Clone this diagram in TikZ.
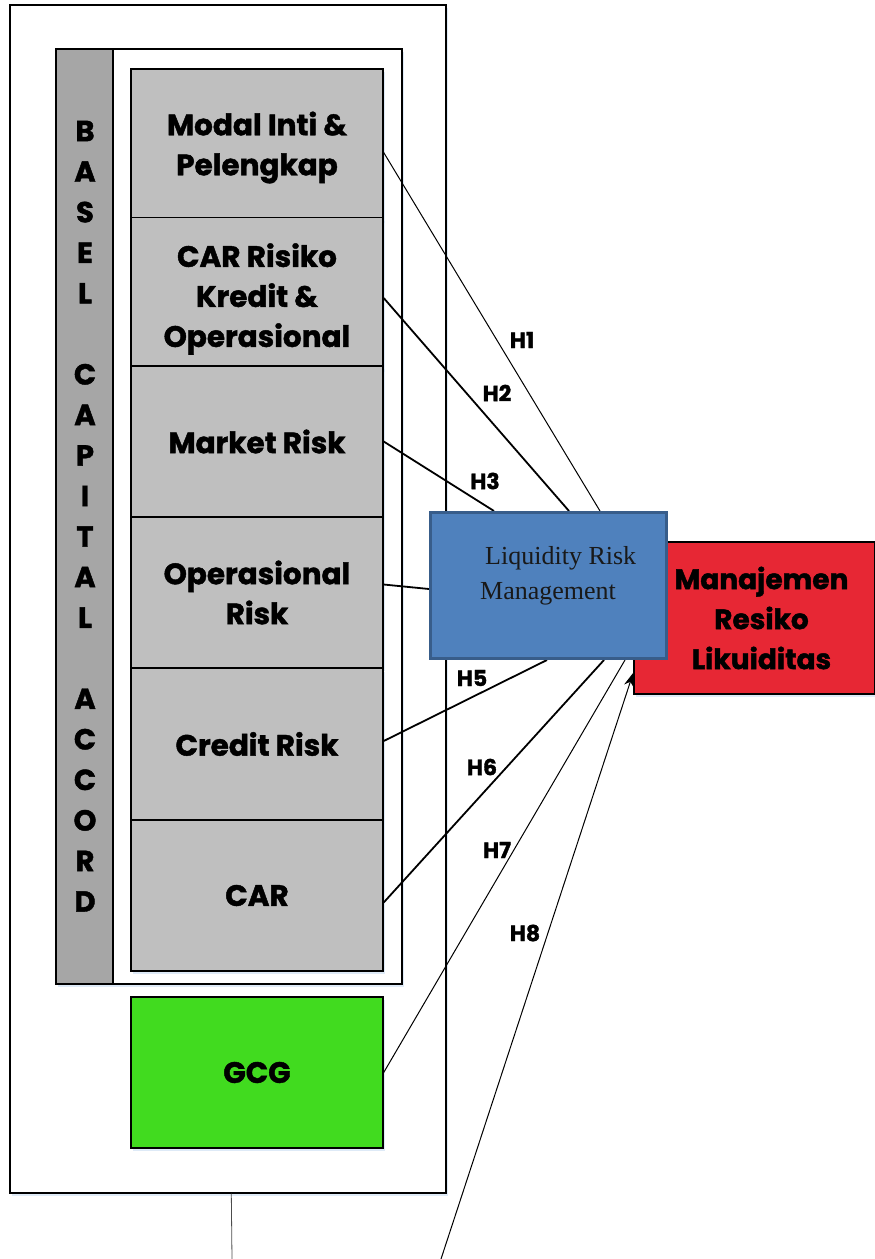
\documentclass[tikz,border=0pt]{standalone}
\usepackage{fontspec}
\setmainfont{Liberation Serif}
\newfontfamily\hd{Poppins}[BoldFeatures={FakeBold=1.5}]
\usetikzlibrary{calc,arrows.meta,shadows}
\definecolor{barGray}{HTML}{A6A6A6}
\definecolor{boxGray}{HTML}{BFBFBF}
\definecolor{gcgGreen}{HTML}{41DB1F}
\definecolor{mrlRed}{HTML}{E72734}
\definecolor{lrmBlue}{HTML}{4F81BD}
\definecolor{lrmEdge}{HTML}{385D8A}
\definecolor{glow}{HTML}{C9DDF2}
\tikzset{
  frame/.style={draw=black, line width=1.4pt, fill=white, inner sep=0pt},
  soft/.style={drop shadow={shadow xshift=2pt, shadow yshift=-3pt, fill=glow, opacity=0.6}},
  factor/.style={draw=black, line width=1.4pt, fill=boxGray, inner sep=0pt,
    minimum width=252pt, minimum height=151pt, align=center,
    font=\hd\bfseries\fontsize{29.5}{40}\selectfont},
  letter/.style={font=\hd\bfseries\fontsize{29}{29}\selectfont, inner sep=0pt},
  hlabel/.style={font=\hd\bfseries\fontsize{22}{22}\selectfont, inner sep=0pt},
  thinlink/.style={line width=1pt},
  thicklink/.style={line width=1.8pt},
}
\begin{document}
\begin{tikzpicture}[x=1pt,y=-1pt]
\useasboundingbox (0,0) rectangle (875,1259);

% outer and inner frames
\node[frame, soft, minimum width=436pt, minimum height=1188pt] (outer) at (228,599) {};
\node[frame, soft, minimum width=346pt, minimum height=935pt] (inner) at (229,516.5) {};
\node[draw=black, line width=1.4pt, fill=barGray, minimum width=57pt, minimum height=935pt, inner sep=0pt] (bar) at (84.5,516.5) {};

% vertical title
\foreach \l [count=\i] in {B,A,S,E,L,{},C,A,P,I,T,A,L,{},A,C,C,O,R,D}
  \node[letter] (v\i) at (85,{131+(\i-1)*40.55}) {\l};

% factor boxes (frames first, then their captions)
\node[factor, soft] (b1) at (257,144.5) {};
\node[factor, soft] (b2) at (257,293) {};
\node[factor, soft] (b3) at (257,441.5) {Market Risk};
\node[factor, soft] (b4) at (257,592.5) {Operasional\\Risk};
\node[factor, soft] (b5) at (257,744) {Credit Risk};
\node[factor, soft] (b6) at (257,895.5) {CAR};
\node[factor, soft, fill=gcgGreen] (gcg) at (257,1072.5) {GCG};
\node[factor, draw=none, fill=none, minimum height=0pt] (t1) at ($(b1.center)+(0,3)$) {Modal Inti \&\\Pelengkap};
\node[factor, draw=none, fill=none, minimum height=0pt] (t2) at ($(b2.center)+(0,6)$) {CAR Risiko\\Kredit \&\\Operasional};

% outcome boxes
\node[draw=black, line width=1.4pt, fill=mrlRed, soft, minimum width=241pt, minimum height=152pt,
  align=center, inner sep=0pt, font=\hd\bfseries\fontsize{28}{40}\selectfont]
  (mrl) at (754.5,618) {\hspace*{14pt}Manajemen\\\hspace*{14pt}Resiko\\\hspace*{14pt}Likuiditas};

% free ends
\coordinate (h8start) at (441,1259);
\coordinate (stem) at (232,1259);
\draw[line width=0.8pt, black!70] ($(outer.south west)+(222,0)$) -- (stem);

% hypothesis links
\draw[thinlink]  ($(b1.east)+(0,8)$) -- (600,511) coordinate (e1);
\draw[thicklink] ($(b2.east)+(0,5)$) -- (569,511) coordinate (e2);
\draw[thicklink] ($(b3.east)+(0,0)$) -- (494,511) coordinate (e3);
\draw[thicklink] ($(b4.east)+(0,-8)$) -- (429,589) coordinate (e4);
\draw[thicklink] ($(b5.east)+(0,-3)$) -- (547,660) coordinate (e5);
\draw[thicklink] ($(b6.east)+(0,7)$) -- (604,660) coordinate (e6);
\draw[thinlink]  (gcg.east) -- (625,660) coordinate (e7);
\draw[thinlink, -{Stealth[length=14pt,width=10pt]}] (h8start) -- ($(mrl.south west)+(0,-22)$);

% mediator
\node[draw=lrmEdge, line width=3pt, fill=lrmBlue, minimum width=236pt, minimum height=146pt, inner sep=0pt]
  (lrm) at (548.5,585.5) {};
\node[anchor=north west, align=left, inner sep=0pt, font=\fontsize{26}{35}\selectfont, text=black!90]
  (lrmtext) at (480,546) {\hspace*{5pt}Liquidity Risk\\Management};

% labels
\node[hlabel] (H1) at (522,340) {H1};
\node[hlabel] (H2) at (497,393) {H2};
\node[hlabel] (H3) at (485,481) {H3};
\node[hlabel] (H5) at (472,678) {H5};
\node[hlabel] (H6) at (482,767) {H6};
\node[hlabel] (H7) at (497,850) {H7};
\node[hlabel] (H8) at (525,933) {H8};
\end{tikzpicture}
\end{document}
